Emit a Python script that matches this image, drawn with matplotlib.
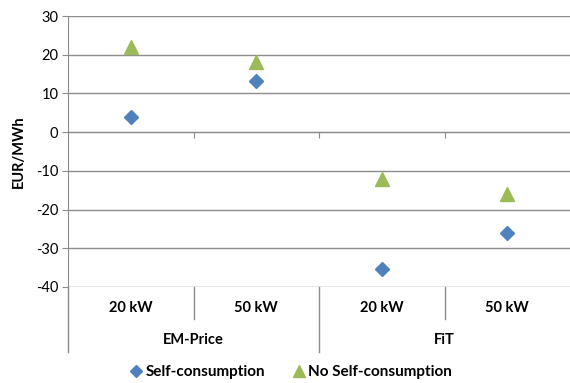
import matplotlib
matplotlib.use("Agg")
import matplotlib.pyplot as plt
from matplotlib.transforms import blended_transform_factory
from matplotlib.lines import Line2D

# Data
groups = ["EM-Price", "FiT"]
sizes = ["20 kW", "50 kW", "20 kW", "50 kW"]
self_consumption = [4, 13.3, -35.4, -26.1]
no_self_consumption = [22, 18, -12.2, -16.1]
y_ticks = [-40, -30, -20, -10, 0, 10, 20, 30]

BLUE = "#4F81BD"
GREEN = "#9BBB59"
GRID = "#8c8c8c"
FONT = "Lato"

plt.rcParams["font.family"] = [FONT, "DejaVu Sans"]

W, H = 570, 383
fig = plt.figure(figsize=(W / 100, H / 100), dpi=100)
ax = fig.add_axes([68 / W, 1 - 287 / H, (570 - 68) / W, (287 - 16) / H])

x = [i + 0.5 for i in range(len(sizes))]
ax.plot(x, self_consumption, linestyle="none", marker="D", ms=7.6,
        color=BLUE, label="Self-consumption", zorder=3)
ax.plot(x, no_self_consumption, linestyle="none", marker="^", ms=10.5,
        color=GREEN, label="No Self-consumption", zorder=3)

ax.set_xlim(0, len(sizes))
ax.set_ylim(-40, 30)
ax.set_yticks(y_ticks)
ax.set_yticklabels([str(v) for v in y_ticks], fontsize=10.5)
ax.yaxis.grid(True, color=GRID, lw=1.0)
ax.set_axisbelow(True)
ax.tick_params(axis="y", length=4, color=GRID, pad=3)

# horizontal axis sits at zero with small ticks between categories
ax.spines["bottom"].set_position(("data", 0))
ax.spines["bottom"].set_color(GRID)
ax.spines["left"].set_color(GRID)
ax.spines["top"].set_visible(False)
ax.spines["right"].set_visible(False)
ax.set_xticks([1, 2, 3])
ax.tick_params(axis="x", direction="out", length=4, color=GRID, labelbottom=False)

ax.set_ylabel("EUR/MWh", fontsize=10.5, fontweight="bold", labelpad=7)

# multi-level category labels beneath the plot
tr = blended_transform_factory(ax.transData, fig.transFigure)
def fy(py):
    return 1 - py / H

for xi, s in zip(x, sizes):
    ax.text(xi, fy(308), s, transform=tr, ha="center", va="center",
            fontsize=10.5, fontweight="bold")
for gi, g in enumerate(groups):
    ax.text(gi * 2 + 1, fy(340), g, transform=tr, ha="center", va="center",
            fontsize=10.5, fontweight="bold")

for xs, bottom in [(0, 352), (1, 319), (2, 352), (3, 319)]:
    ax.add_line(Line2D([xs, xs], [fy(287), fy(bottom)], transform=tr,
                       color=GRID, lw=1.0, clip_on=False))

leg = fig.legend(loc="center", bbox_to_anchor=(290 / W, 1 - 372 / H),
                 ncol=2, frameon=False, handletextpad=0.1, columnspacing=1.7,
                 handlelength=1.0, markerscale=0.8,
                 prop={"family": FONT, "weight": "bold", "size": 11})

fig.savefig("out.png", dpi=100)
